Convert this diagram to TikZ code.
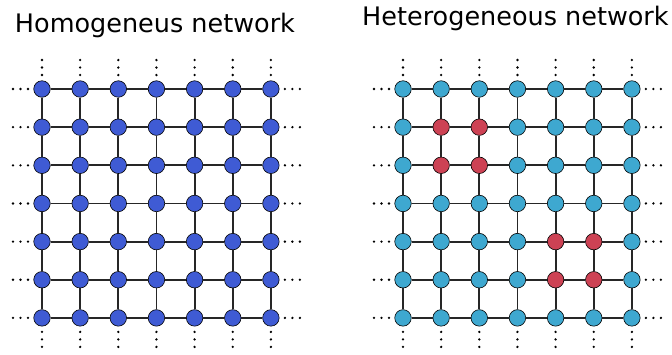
\documentclass[tikz,border=0pt]{standalone}
\usepackage{fontspec}
\setmainfont{DejaVu Sans}
\definecolor{homoblue}{HTML}{3F5BD4}
\definecolor{hetcyan}{HTML}{3EA8D0}
\definecolor{hetred}{HTML}{CD4254}

\begin{document}
\begin{tikzpicture}[
x=1pt, y=-1pt,
site/.style={circle, draw=black, line width=0.6pt, inner sep=0pt, minimum size=16.5pt},
homo/.style={site, fill=homoblue},
host/.style={site, fill=hetcyan},
defect/.style={site, fill=hetred},
bond/.style={line width=1.9pt, draw=black!85},
title/.style={anchor=base, inner sep=0pt, font=\fontsize{25.5}{30}\selectfont}
]
\useasboundingbox (0,0) rectangle (672,354);

\node[title] (homotitle) at (155,32) {Homogeneus network};
\node[title] (hettitle) at (515.5,25) {Heterogeneous network};

% left lattice
\foreach \i in {1,...,7}
  \foreach \j in {1,...,7}
    \node[homo] (L-\i-\j) at ({42+(\i-1)*38.15},{89+(\j-1)*38.15}) {};

% right lattice, two defect clusters
\foreach \i in {1,...,7}
  \foreach \j in {1,...,7} {
    \pgfmathtruncatemacro\bad{((\i==2||\i==3)&&(\j==2||\j==3))||((\i==5||\i==6)&&(\j==5||\j==6))}
    \ifnum\bad=1 \def\kind{defect}\else\def\kind{host}\fi
    \node[\kind] (R-\i-\j) at ({403+(\i-1)*38.15},{89+(\j-1)*38.15}) {};
  }

% bonds
\foreach \g in {L,R}
  \foreach \i in {1,...,6}
    \foreach \j in {1,...,7} {
      \pgfmathtruncatemacro\k{\i+1}
      \draw[bond] (\g-\i-\j) -- (\g-\k-\j);
      \draw[bond] (\g-\j-\i) -- (\g-\j-\k);
    }

% the lattice goes on
\foreach \g in {L,R}
  \foreach \n in {1,...,7}
    \foreach \d in {14,21.5,29} {
      \fill ([xshift=-\d pt]\g-1-\n.center) circle (1.3);
      \fill ([xshift=\d pt]\g-7-\n.center) circle (1.3);
      \fill ([yshift=\d pt]\g-\n-1.center) circle (1.3);
      \fill ([yshift=-\d pt]\g-\n-7.center) circle (1.3);
    }
\end{tikzpicture}
\end{document}
